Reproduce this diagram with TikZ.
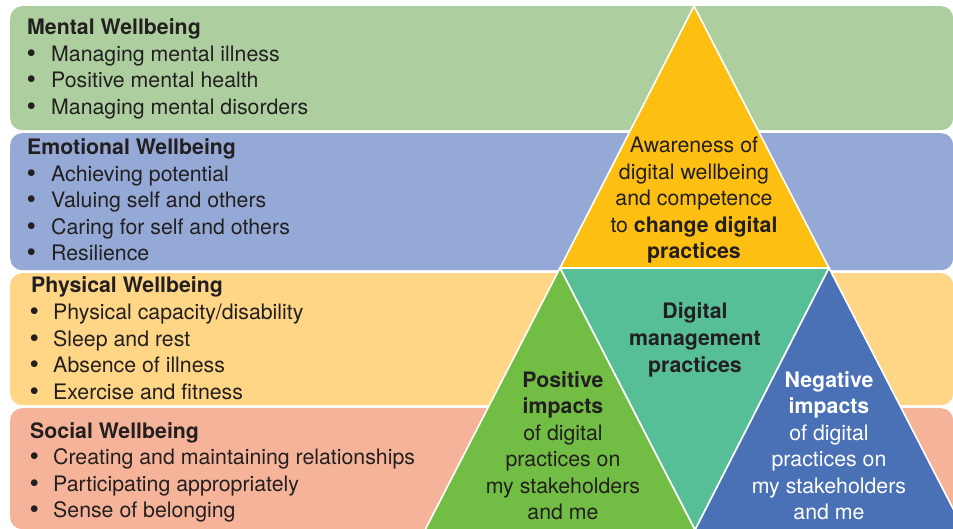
\documentclass[tikz,border=0pt]{standalone}
\usepackage{fontspec}
\setmainfont{TeX Gyre Heros}
\definecolor{bandM}{HTML}{ADCF9F}
\definecolor{bandE}{HTML}{94A9D6}
\definecolor{bandP}{HTML}{FED686}
\definecolor{bandS}{HTML}{F5B499}
\definecolor{triY}{HTML}{FDC012}
\definecolor{triT}{HTML}{57BF98}
\definecolor{triG}{HTML}{72BE44}
\definecolor{triB}{HTML}{4A70B6}
\definecolor{ink}{HTML}{231F20}
\begin{document}
\begin{tikzpicture}[x=1pt,y=-1pt,
  band/.style={rectangle, rounded corners=12pt, draw=none, anchor=north west, inner sep=0pt},
  tri/.style={draw=white, line width=1.6pt, line join=miter},
  txt/.style={font=\fontsize{21.3}{26.5}\selectfont, text=ink, inner sep=0pt, anchor=base west},
  bul/.style={txt, font=\fontsize{27}{26.5}\selectfont},
  head/.style={txt, font=\fontsize{21.3}{26.5}\selectfont\bfseries},
  ctr/.style={font=\fontsize{21.3}{26.5}\selectfont, text=ink, inner sep=0pt, anchor=base},
  ctrb/.style={ctr, font=\fontsize{21.3}{26.5}\selectfont\bfseries}]
\useasboundingbox (0,0) rectangle (953,529);
\clip (0,0) rectangle (953,529);
% bands
\node[band, fill=bandM, minimum width=943pt, minimum height=124pt] (mentalband) at (10,6) {};
\node[band, fill=bandE, minimum width=943pt, minimum height=137pt] (emoband) at (10,133) {};
\node[band, fill=bandP, minimum width=943pt, minimum height=132pt] (physband) at (10,273) {};
\node[band, fill=bandS, minimum width=943pt, minimum height=121pt] (socband) at (10,408) {};
% band texts
\node[head] (mentalH) at (27,35) {Mental Wellbeing};
\foreach \t [count=\i] in {Managing mental illness, Positive mental health, Managing mental disorders}{
  \node[bul] (mentalB\i) at (26.5,{36+\i*26.5}) {\textbullet};
  \node[txt] (mental\i) at (51,{35+\i*26.5}) {\t};}
\node[head] (emoH) at (27,155) {Emotional Wellbeing};
\foreach \t [count=\i] in {Achieving potential, Valuing self and others, Caring for self and others, Resilience}{
  \node[bul] (emoB\i) at (26.5,{156+\i*26.5}) {\textbullet};
  \node[txt] (emo\i) at (51,{155+\i*26.5}) {\t};}
\node[head] (physH) at (31,293) {Physical Wellbeing};
\foreach \t [count=\i] in {Physical capacity/disability, Sleep and rest, Absence of illness, Exercise and fitness}{
  \node[bul] (physB\i) at (29.5,{294+\i*26.5}) {\textbullet};
  \node[txt] (phys\i) at (53,{293+\i*26.5}) {\t};}
\node[head] (socH) at (30,438) {Social Wellbeing};
\foreach \t [count=\i] in {Creating and maintaining relationships, Participating appropriately, Sense of belonging}{
  \node[bul] (socB\i) at (29.5,{439+\i*26.5}) {\textbullet};
  \node[txt] (soc\i) at (53,{438+\i*26.5}) {\t};}
% triangles
\coordinate (A) at (694,6);
\coordinate (L) at (560,268);
\coordinate (R) at (829,268);
\coordinate (BL) at (425,530);
\coordinate (BM) at (695,530);
\coordinate (BR) at (964,530);
\filldraw[tri, fill=triY] (A) -- (L) -- (R) -- cycle;
\filldraw[tri, fill=triT] (L) -- (R) -- (BM) -- cycle;
\filldraw[tri, fill=triG] (L) -- (BM) -- (BL) -- cycle;
\filldraw[tri, fill=triB] (R) -- (BR) -- (BM) -- cycle;
% triangle texts
\node[ctr] (y1) at (694,153) {Awareness of};
\node[ctr] (y2) at (694,179.5) {digital wellbeing};
\node[ctr] (y3) at (694,206) {and competence};
\node[ctr] (y4) at (694,232.5) {to \textbf{change digital}};
\node[ctrb] (y5) at (694,259) {practices};
\node[ctrb] (t1) at (695,319) {Digital};
\node[ctrb] (t2) at (695,345.5) {management};
\node[ctrb] (t3) at (695,372) {practices};
\node[ctrb] (g1) at (563,387) {Positive};
\node[ctrb] (g2) at (563,413.5) {impacts};
\node[ctr] (g3) at (563,440) {of digital};
\node[ctr] (g4) at (563,466.5) {practices on};
\node[ctr] (g5) at (563,493) {my stakeholders};
\node[ctr] (g6) at (563,519.5) {and me};
\node[ctrb, text=white] (b1) at (829,387) {Negative};
\node[ctrb, text=white] (b2) at (829,413.5) {impacts};
\node[ctr, text=white] (b3) at (829,440) {of digital};
\node[ctr, text=white] (b4) at (829,466.5) {practices on};
\node[ctr, text=white] (b5) at (829,493) {my stakeholders};
\node[ctr, text=white] (b6) at (829,519.5) {and me};
\end{tikzpicture}
\end{document}
